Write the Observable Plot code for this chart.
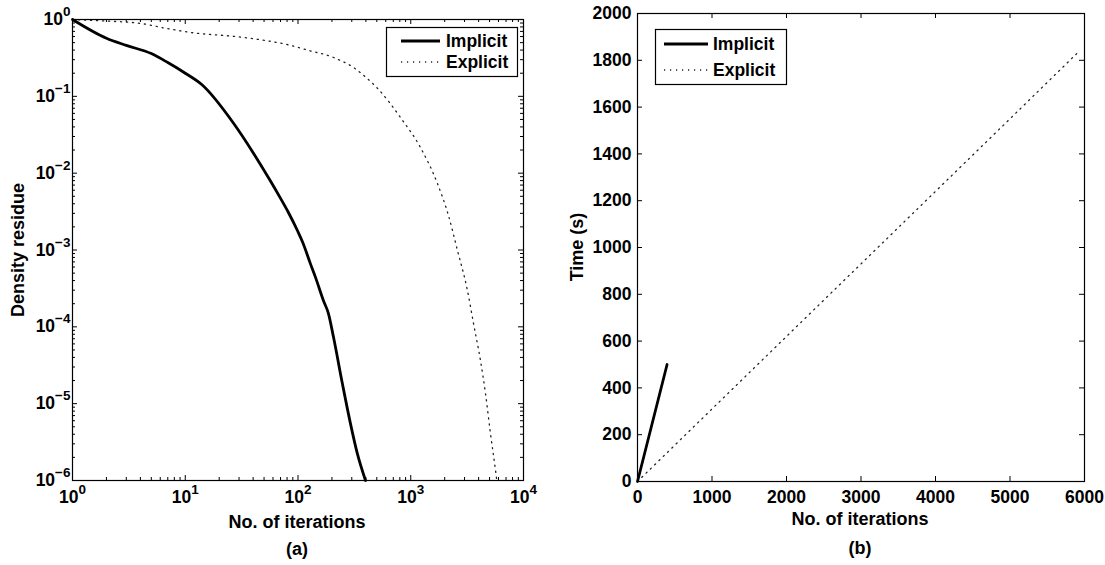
<!DOCTYPE html>
<html>
<head>
<meta charset="utf-8">
<script src="https://cdn.jsdelivr.net/npm/d3@7"></script>
<script src="https://cdn.jsdelivr.net/npm/@observablehq/plot@0.6"></script>
<style>
  body { margin: 0; background: #fff; }
  #fig { position: relative; width: 1105px; height: 565px; overflow: hidden;
         font-family: "Liberation Sans", Arial, Helvetica, sans-serif; font-weight: bold; }
  #fig > svg { position: absolute; }
</style>
</head>
<body>
<div id="fig"></div>
<script>
// ---- convergence history: density residue vs iteration count ----
const implicitIter = [1, 2, 3, 5, 7, 10, 14, 27, 40, 57, 70, 82, 99, 110, 129, 143, 168, 186, 207, 248, 292, 337, 397];
const implicitRes  = [1, 0.57, 0.46, 0.36, 0.275, 0.20, 0.1425, 0.044, 0.0185, 0.0079, 0.0047, 0.0031, 0.00178,
                      0.00126, 6.6e-4, 4.4e-4, 2.2e-4, 1.5e-4, 7.2e-5, 1.8e-5, 5.5e-6, 2.2e-6, 1e-6];

const explicitIter = [1, 2, 4, 7, 11, 31, 86, 121, 207, 311, 413, 518, 811, 1221, 1727, 2162, 2600,
                      3185, 3606, 4159, 4603, 5093, 5650, 5800];
const explicitRes  = [1, 0.955, 0.89, 0.76, 0.68, 0.59, 0.46, 0.40, 0.32, 0.237, 0.17, 0.123, 0.053,
                      0.0215, 0.0073, 0.0028, 9.8e-4, 2.96e-4, 1.1e-4, 3.6e-5, 1.35e-5, 4.1e-6, 1.35e-6, 1e-6];

// ---- wall-clock time vs iteration count ----
const timeImplicitIter = [0, 397];
const timeImplicit     = [0, 500];
const timeExplicitIter = [0, 1000, 2000, 3000, 4000, 5000, 5900];
const timeExplicit     = [0, 310, 620, 930, 1240, 1550, 1830];

// ---- axes ----
const logXTicks = [1, 10, 100, 1000, 10000];
const logYTicks = [1e-6, 1e-5, 1e-4, 1e-3, 1e-2, 1e-1, 1];
const linXTicks = [0, 1000, 2000, 3000, 4000, 5000, 6000];
const linYTicks = [0, 200, 400, 600, 800, 1000, 1200, 1400, 1600, 1800, 2000];
const seriesNames = ["Implicit", "Explicit"];
const panelNames = ["(a)", "(b)"];
const xTitle = "No. of iterations";
const yTitles = ["Density residue", "Time (s)"];

const zip = (xs, ys) => xs.map((x, i) => ({x, y: ys[i]}));
const minorOf = decades => decades.slice(0, -1).flatMap(d => [2,3,4,5,6,7,8,9].map(m => d * m));

const solid = {stroke: "black", strokeWidth: 2.8, strokeLinejoin: "round"};
const dotted = {stroke: "#222", strokeWidth: 1.3, strokeDasharray: "1.2 4.8"};

const FONT = '"Liberation Sans", Arial, sans-serif';
const baseStyle = {fontFamily: FONT, fontSize: "17.5px", fontWeight: "bold",
                   background: "transparent", overflow: "visible", color: "black"};

// inward ticks on all four sides of a box
function boxTicks(xs, ys, W, H, len) {
  return [
    Plot.tickX(xs, {x: d => d, insetTop: H - len, stroke: "black"}),
    Plot.tickX(xs, {x: d => d, insetBottom: H - len, stroke: "black"}),
    Plot.tickY(ys, {y: d => d, insetRight: W - len, stroke: "black"}),
    Plot.tickY(ys, {y: d => d, insetLeft: W - len, stroke: "black"})
  ];
}

// "10^k" tick labels -> base with raised exponent
function superscript(svg, label) {
  d3.select(svg).selectAll(`g[aria-label="${label}"] text`).each(function () {
    const t = d3.select(this);
    const [b, e] = t.text().split("^");
    if (e === undefined) return;
    t.text(null);
    t.append("tspan").text(b);
    t.append("tspan").attr("dy", -9).attr("font-size", 13.5).text(e);
  });
}
const powLabel = d => "10^" + String(Math.round(Math.log10(d))).replace("-", "\u2212");

const fig = document.getElementById("fig");

// ---------- left panel ----------
{
  const width = 552, height = 565, mL = 72, mR = 29, mT = 19, mB = 85;
  const W = width - mL - mR, H = height - mT - mB;
  const p = Plot.plot({
    width, height, marginLeft: mL, marginRight: mR, marginTop: mT, marginBottom: mB,
    style: baseStyle,
    x: {type: "log", domain: [1, 1e4]},
    y: {type: "log", domain: [1e-6, 1]},
    marks: [
      Plot.line(zip(explicitIter, explicitRes), {x: "x", y: "y", curve: "monotone-x", ...dotted}),
      Plot.line(zip(implicitIter, implicitRes), {x: "x", y: "y", curve: "monotone-x", ...solid}),
      ...boxTicks(minorOf(logXTicks), minorOf(logYTicks), W, H, 3),
      ...boxTicks(logXTicks, logYTicks, W, H, 5),
      Plot.frame({stroke: "black", strokeWidth: 1.2}),
      Plot.axisY({ticks: logYTicks, tickSize: 0, tickPadding: 2, tickFormat: powLabel, label: null}),
      Plot.axisX({ticks: logXTicks, tickSize: 0, tickPadding: 10, tickFormat: powLabel, label: null})
    ]
  });
  p.style.left = "0px"; p.style.top = "0px";
  superscript(p, "y-axis tick label");
  superscript(p, "x-axis tick label");
  fig.appendChild(p);
}

// ---------- right panel ----------
{
  const width = 553, height = 565, mL = 85, mR = 21, mT = 13, mB = 84;
  const W = width - mL - mR, H = height - mT - mB;
  const p = Plot.plot({
    width, height, marginLeft: mL, marginRight: mR, marginTop: mT, marginBottom: mB,
    style: baseStyle,
    x: {domain: [0, 6000]},
    y: {domain: [0, 2000]},
    marks: [
      Plot.line(zip(timeExplicitIter, timeExplicit), {x: "x", y: "y", ...dotted}),
      Plot.line(zip(timeImplicitIter, timeImplicit), {x: "x", y: "y", ...solid}),
      ...boxTicks(linXTicks, linYTicks, W, H, 5),
      Plot.frame({stroke: "black", strokeWidth: 1.2}),
      Plot.axisY({ticks: linYTicks, tickSize: 0, tickPadding: 6, tickFormat: d => String(d), label: null}),
      Plot.axisX({ticks: linXTicks, tickSize: 0, tickPadding: 9, tickFormat: d => String(d), label: null})
    ]
  });
  p.style.left = "552px"; p.style.top = "0px";
  fig.appendChild(p);
}

// ---------- titles and legends ----------
const ov = d3.select(fig).append("svg")
  .attr("width", 1105).attr("height", 565)
  .style("left", "0px").style("top", "0px")
  .attr("font-family", FONT)
  .attr("font-weight", "bold").attr("font-size", 18).attr("fill", "black");

const titles = [
  {cx: 297, xy: 528, py: 555, ty: [18, 250]},
  {cx: 860, xy: 525, py: 554, ty: [577, 247]}
];
titles.forEach((t, i) => {
  ov.append("text").attr("x", t.cx).attr("y", t.xy).attr("text-anchor", "middle").text(xTitle);
  ov.append("text").attr("x", t.cx).attr("y", t.py).attr("text-anchor", "middle").text(panelNames[i]);
  ov.append("text").attr("text-anchor", "middle")
    .attr("transform", `translate(${t.ty[0] + 6},${t.ty[1]}) rotate(-90)`).text(yTitles[i]);
});

const legends = [
  {x: 386, y: 27, w: 131, h: 49, rows: [41, 62], l0: 401, l1: 440, tx: 446},
  {x: 655, y: 29, w: 131, h: 55, rows: [44, 70], l0: 664, l1: 708, tx: 713}
];
legends.forEach(L => {
  ov.append("rect").attr("x", L.x + 0.5).attr("y", L.y + 0.5).attr("width", L.w).attr("height", L.h)
    .attr("fill", "white").attr("stroke", "black").attr("stroke-width", 1.2);
  seriesNames.forEach((name, i) => {
    const st = i === 0 ? solid : dotted;
    ov.append("line").attr("x1", L.l0).attr("x2", L.l1).attr("y1", L.rows[i]).attr("y2", L.rows[i])
      .attr("stroke", st.stroke).attr("stroke-width", st.strokeWidth)
      .attr("stroke-dasharray", st.strokeDasharray || null);
    ov.append("text").attr("x", L.tx).attr("y", L.rows[i] + 6).attr("font-size", 17.5).text(name);
  });
});
</script>
</body>
</html>
